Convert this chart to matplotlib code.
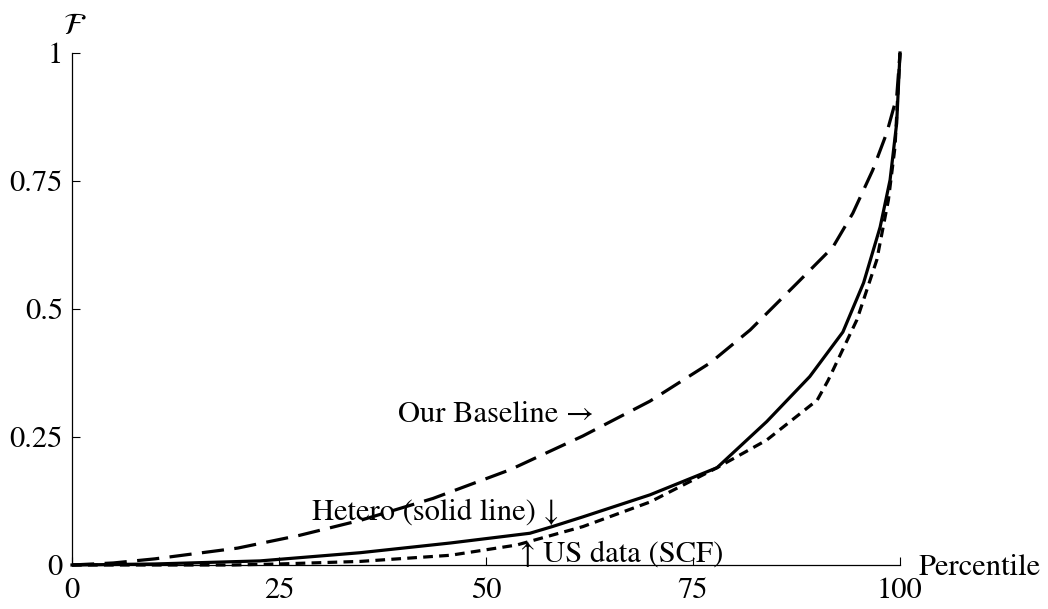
import matplotlib
matplotlib.use("Agg")
import matplotlib.pyplot as plt

# Lorenz-type curves (percentile -> share F)
pct_base = [0, 5, 10, 20, 27.5, 35, 43.6, 52.9, 61.7, 69.8, 77.1, 81.9, 87.6,
            91.9, 94.3, 96.7, 98.4, 99.6, 100]
baseline = [0, 0.004, 0.012, 0.033, 0.058, 0.088, 0.13, 0.186, 0.252, 0.32,
            0.395, 0.459, 0.551, 0.621, 0.687, 0.771, 0.844, 0.914, 1.0]

pct_het = [0, 10, 22.7, 34.8, 45.7, 55.3, 58, 61.7, 69.8, 77.9, 83.9, 89.1,
           93.1, 95.6, 97.6, 98.8, 99.6, 100]
hetero = [0, 0.002, 0.008, 0.024, 0.043, 0.062, 0.075, 0.094, 0.137, 0.19,
          0.28, 0.368, 0.455, 0.551, 0.66, 0.752, 0.863, 1.0]

pct_us = [0, 19.5, 25, 34.8, 45.7, 53.7, 61.7, 69.8, 77.9, 83.9, 90, 91.3,
          94.8, 97.2, 98.6, 99.4, 100]
us_data = [0, 0, 0.002, 0.007, 0.019, 0.039, 0.075, 0.123, 0.19, 0.244, 0.322,
           0.36, 0.479, 0.596, 0.713, 0.817, 1.0]

xticks = [0, 25, 50, 75, 100]
xticklabels = ["0", "25", "50", "75", "100"]
yticks = [0, 0.25, 0.5, 0.75, 1]
yticklabels = ["0", "0.25", "0.5", "0.75", "1"]

plt.rcParams["font.family"] = ["STIXGeneral", "Liberation Serif", "DejaVu Serif"]
plt.rcParams["mathtext.fontset"] = "stix"
plt.rcParams["lines.scale_dashes"] = False
FS = 22

fig = plt.figure(figsize=(10.48, 6.09), dpi=100)
ax = fig.add_axes([72 / 1048, 44 / 609, 828 / 1048, 512 / 609])

ax.plot(pct_base, baseline, color="black", lw=2.3, dashes=(16, 7.5),
        clip_on=False)
ax.plot(pct_het, hetero, color="black", lw=2.3, clip_on=False)
ax.plot(pct_us, us_data, color="black", lw=2.3, dashes=(7, 4.5),
        clip_on=False)

ax.set_xlim(0, 100)
ax.set_ylim(0, 1)
for s in ("top", "right"):
    ax.spines[s].set_visible(False)
for s in ("left", "bottom"):
    ax.spines[s].set_linewidth(0.9)

ax.set_xticks(xticks)
ax.set_xticklabels(xticklabels)
ax.set_yticks(yticks)
ax.set_yticklabels(yticklabels)
ax.tick_params(direction="in", length=6, width=0.8, labelsize=FS)
ax.tick_params(axis="x", pad=9)
ax.tick_params(axis="y", pad=6.5)

ax.text(39.4, 0.279, "Our Baseline \u2192", fontsize=FS, ha="left",
        va="baseline")
ax.text(29.0, 0.088, "Hetero (solid line) \u2193", fontsize=FS, ha="left",
        va="baseline")
ax.text(54.1, 0.006, "\u2191 US data (SCF)", fontsize=FS, ha="left",
        va="baseline")
ax.text(102.2, -0.02, "Percentile", fontsize=FS, ha="left", va="baseline",
        clip_on=False)
ax.text(0.3, 1.023, r"$\mathcal{F}$", fontsize=22, ha="center", va="bottom",
        clip_on=False)

fig.savefig("out.png", dpi=100)
